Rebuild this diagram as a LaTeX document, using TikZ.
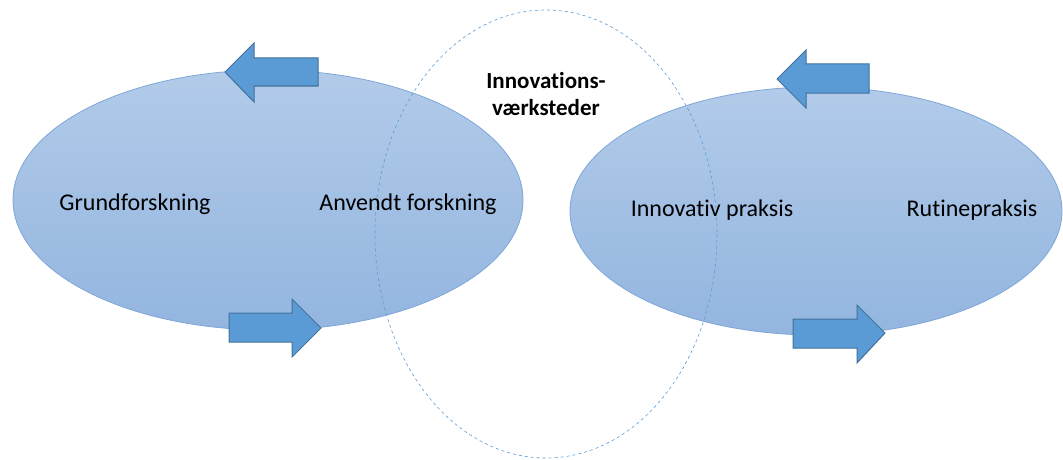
\documentclass[tikz,border=0pt]{standalone}
\usepackage{fontspec}
\setmainfont{Carlito}[Ligatures=NoCommon]
\usepackage{tikz}
\definecolor{ovaltop}{HTML}{B2CBE9}
\definecolor{ovalbund}{HTML}{93B5DF}
\definecolor{ovalkant}{HTML}{7EA6D8}
\definecolor{pilfyld}{HTML}{5B9BD5}
\definecolor{pilkant}{HTML}{41719C}
\tikzstyle{oval} = [draw=ovalkant, line width=0.8pt, top color=ovaltop, bottom color=ovalbund]
\tikzstyle{vaerk} = [draw=pilfyld, dashed, line width=0.6pt]
\tikzstyle{pil} = [draw=pilkant, fill=pilfyld, line width=1pt, line join=miter]
\tikzstyle{tekst} = [font=\fontsize{24}{28}\selectfont, inner sep=0pt]
\tikzstyle{overskrift} = [font=\fontsize{23}{27}\selectfont\bfseries, align=center, inner sep=0pt]

\begin{document}
\begin{tikzpicture}[x=1pt, y=-1pt]
\useasboundingbox (0,0) rectangle (1063,460);
% de to ovaler
\path[oval] (268,200) ellipse [x radius=255, y radius=130];
\path[oval] (816,211) ellipse [x radius=246, y radius=124];
% innovationsvaerksteder
\path[vaerk] (546,234) ellipse [x radius=171, y radius=224];
% pile til venstre
\path[pil] (318,58) -- (254,58) -- (254,43) -- (225,72)
    -- (254,102) -- (254,86) -- (318,86) -- cycle;
\path[pil] (229,313) -- (292,313) -- (292,299) -- (321,328)
    -- (292,357) -- (292,342) -- (229,342) -- cycle;
% pile til hoejre
\path[pil] (869,64) -- (806,64) -- (806,50) -- (777,79)
    -- (806,108) -- (806,93) -- (869,93) -- cycle;
\path[pil] (793,319) -- (857,319) -- (857,305) -- (885,333)
    -- (857,363) -- (857,348) -- (793,348) -- cycle;
% tekster
\node[tekst] (grund) at (135,204) {Grundforskning};
\node[tekst] (anvendt) at (408,204) {Anvendt forskning};
\node[tekst] (innovativ) at (712,210) {Innovativ praksis};
\node[tekst] (rutine) at (972,210) {Rutinepraksis};
\node[overskrift] (vaerksted) at (546,94) {Innovations-\\værksteder};
\end{tikzpicture}
\end{document}
